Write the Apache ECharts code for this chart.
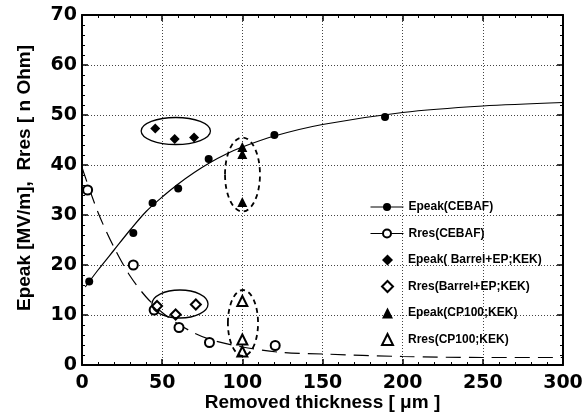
<!doctype html>
<html>
<head>
<meta charset="utf-8">
<title>Epeak, Rres vs removed thickness</title>
<script src="https://cdn.jsdelivr.net/npm/echarts@6/dist/echarts.min.js"></script>
<style>
html,body{margin:0;padding:0;background:#fff;}
#main{width:584px;height:412px;}
</style>
</head>
<body>
<div id="main"></div>
<script>
// CEBAF measurements [removed thickness um, value]
var epeakCebaf = [[4.5,16.7],[32,26.4],[44,32.4],[60,35.3],[79,41.2],[120,46],[189,49.6]];
var rresCebaf = [[3.5,35],[32,20],[45,11],[60.5,7.5],[79.5,4.5],[120.5,3.9]];
// fitted curves as drawn in the figure
var epeakFit = [[2,15.6],[10,19],[20,23],[30,27],[40,30.7],[50,33.6],[60,36.2],[70,38.5],[80,40.5],[90,42.2],[100,43.6],[120,45.8],[150,48.1],[200,50.5],[250,51.8],[300,52.5]];
var rresFit = [[0,39.5],[10,30.5],[20,23.5],[30,17.8],[40,13.6],[50,10.5],[60,8.2],[70,6.4],[80,5.1],[100,3.6],[125,2.5],[150,2.2],[200,1.7],[250,1.5],[300,1.5]];
// KEK measurements
var epeakBarrel = [[45.7,47.3],[57.8,45.2],[69.9,45.5]];
var rresBarrel = [[46.8,11.8],[58.4,10.1],[71,12.1]];
var epeakCp100 = [[100,43.6],[100,42.2],[100,32.6]];
var rresCp100 = [[100,12.8],[100,5.1],[100,2.7]];
// circled groups: [cx, cy, rx, ry, dashed]
var rings = [[58.5,46.8,21.6,2.7,0],[61.1,12.2,17.5,2.8,0],[100.1,38.1,10.9,7.4,1],[100.4,8.4,9.4,6.6,1]];

var myChart = echarts.init(document.getElementById('main'));

function axis(o, mirror) {
    var a = {
        type:'value', min:o.min, max:o.max, interval:o.interval, position:o.position,
        axisLine:{onZero:false, lineStyle:{color:'#000', width:2}},
        axisTick:{inside:true, length:6, lineStyle:{color:'#000', width:1.5}},
        minorTick:{show:true, splitNumber:5, length:3, lineStyle:{color:'#000', width:1}},
        splitLine:{show:false}
    };
    if (mirror) {
        a.axisLabel = {show:false};
    } else {
        a.axisLabel = {margin:o.margin, fontFamily:'DejaVu Sans', fontWeight:'bold', fontSize:19, color:'#000'};
        a.splitLine = {show:true, lineStyle:{color:'#444', width:1, type:[1,2]}};
        a.name = o.name;
        a.nameLocation = 'middle';
        a.nameGap = o.nameGap;
        a.nameMoveOverlap = false;
        a.nameTextStyle = {fontFamily:'Liberation Sans', fontWeight:'bold', fontSize:19, color:'#000', padding:o.namePad};
    }
    return a;
}

var legendText = {fontFamily:'Liberation Sans', fontWeight:'bold', fontSize:12, color:'#000', lineHeight:14};

myChart.setOption({
    backgroundColor:'#fff',
    animation:false,
    grid:{left:82, right:21, top:15, bottom:47, outerBoundsMode:'none'},
    xAxis:[
        axis({min:0, max:300, interval:50, position:'bottom', margin:9, name:'Removed thickness [ μm ]', nameGap:28, namePad:0}),
        axis({min:0, max:300, interval:50, position:'top'}, true)
    ],
    yAxis:[
        axis({min:0, max:70, interval:10, position:'left', margin:5, name:'Epeak [MV/m],  Rres [ n Ohm]', nameGap:48, namePad:[0,0,0,24]}),
        axis({min:0, max:70, interval:10, position:'right'}, true)
    ],
    legend:[
        {   // CEBAF entries with line
            data:['Epeak(CEBAF)','Rres(CEBAF)'],
            orient:'vertical', left:370, top:200, padding:0,
            itemWidth:33, itemHeight:10, itemGap:12.5,
            lineStyle:{type:'solid', width:1},
            textStyle:legendText
        },
        {   // KEK entries, symbol only
            data:['Epeak( Barrel+EP;KEK)','Rres(Barrel+EP;KEK)','Epeak(CP100;KEK)','Rres(CP100;KEK)'],
            orient:'vertical', left:381, top:253, padding:0,
            itemWidth:11, itemHeight:11, itemGap:12.5,
            textStyle:{fontFamily:'Liberation Sans', fontWeight:'bold', fontSize:12, color:'#000', lineHeight:14, padding:[0,0,0,10]}
        }
    ],
    series:[
        {
            name:'Epeak(CEBAF)', type:'line', data:epeakFit, smooth:0.3,
            symbol:'circle', symbolSize:8, showSymbol:false,
            itemStyle:{color:'#000'}, lineStyle:{color:'#000', width:1.2}, z:2
        },
        {
            name:'Epeak(CEBAF)', type:'scatter', data:epeakCebaf,
            symbol:'circle', symbolSize:8, itemStyle:{color:'#000', opacity:1}, z:3
        },
        {
            name:'Rres(CEBAF)', type:'line', data:rresFit, smooth:0.3,
            symbol:'emptyCircle', symbolSize:8, showSymbol:false,
            itemStyle:{color:'#000'}, lineStyle:{color:'#000', width:1.2, type:[15,8]}, z:2
        },
        {
            name:'Rres(CEBAF)', type:'scatter', data:rresCebaf,
            symbol:'emptyCircle', symbolSize:9, itemStyle:{color:'#000', borderWidth:1.2, opacity:1}, z:3
        },
        {
            name:'Epeak( Barrel+EP;KEK)', type:'scatter', data:epeakBarrel,
            symbol:'diamond', symbolSize:10, itemStyle:{color:'#000', opacity:1}, z:3
        },
        {
            name:'Rres(Barrel+EP;KEK)', type:'scatter', data:rresBarrel,
            symbol:'emptyDiamond', symbolSize:10, itemStyle:{color:'#000', borderWidth:1.2, opacity:1}, z:3
        },
        {
            name:'Epeak(CP100;KEK)', type:'scatter', data:epeakCp100,
            symbol:'triangle', symbolSize:10, itemStyle:{color:'#000', opacity:1}, z:3
        },
        {
            name:'Rres(CP100;KEK)', type:'scatter', data:rresCp100,
            symbol:'emptyTriangle', symbolSize:10, itemStyle:{color:'#000', borderWidth:1.2, opacity:1}, z:3
        },
        {
            type:'custom', data:rings, silent:true, z:4,
            renderItem:function (params, api) {
                var c = api.coord([api.value(0), api.value(1)]);
                var s = api.size([api.value(2), api.value(3)]);
                var dashed = api.value(4) === 1;
                return {
                    type:'ellipse',
                    shape:{cx:c[0], cy:c[1], rx:s[0], ry:s[1]},
                    style:{fill:null, stroke:'#000', lineWidth:dashed ? 1.8 : 1.3, lineDash:dashed ? [5,4] : null}
                };
            }
        }
    ]
});
</script>
</body>
</html>
